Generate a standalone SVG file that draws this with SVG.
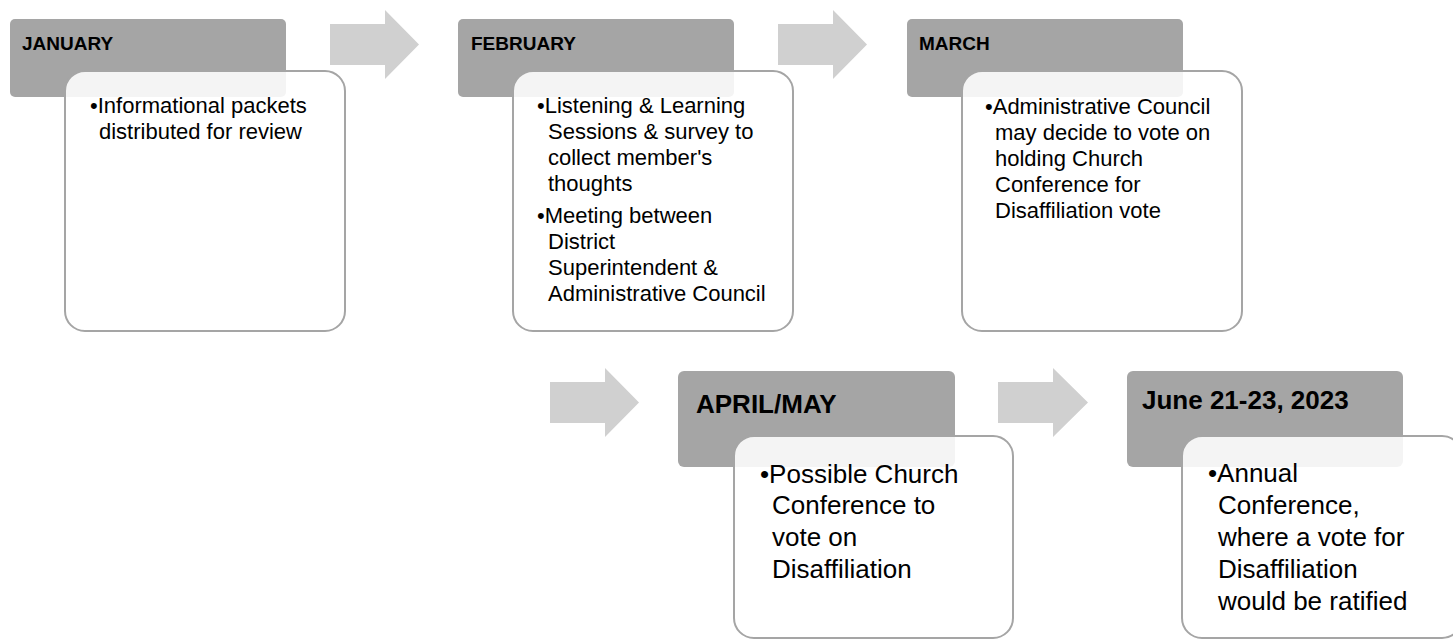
<svg xmlns="http://www.w3.org/2000/svg" width="1453" height="639" viewBox="0 0 1453 639">
<style>
.hdr{fill:#a5a5a5}
.body{fill:#ffffff;fill-opacity:0.88;stroke:#a5a5a5;stroke-width:2}
.arrow{fill:#d0d0d0}
.h1{font-family:"Liberation Sans",Arial,sans-serif;font-weight:bold;font-size:19px;fill:#000}
.h2{font-family:"Liberation Sans",Arial,sans-serif;font-weight:bold;font-size:26px;fill:#000}
.t1{font-family:"Liberation Sans",Arial,sans-serif;font-size:22px;fill:#000}
.t2{font-family:"Liberation Sans",Arial,sans-serif;font-size:26px;fill:#000}
</style>
<rect width="1453" height="639" fill="#ffffff"/>
<g id="connectors">
<polygon class="arrow" points="330,24 385,24 385,10 419,44.5 385,79 385,65 330,65"/>
<polygon class="arrow" points="778,24 833,24 833,10 867,44.5 833,79 833,65 778,65"/>
<polygon class="arrow" points="550,382 605,382 605,368 639,402.5 605,437 605,423 550,423"/>
<polygon class="arrow" points="998,382 1053,382 1053,368 1088,402.5 1053,437 1053,423 998,423"/>
</g>
<g id="january">
<rect class="hdr" x="10" y="19" width="276" height="78" rx="5"/>
<text class="h1" x="22" y="50">JANUARY</text>
<rect class="body" x="65" y="71" width="280" height="260" rx="20"/>
<text class="t1" x="90" y="113">•Informational packets</text>
<text class="t1" x="99" y="139">distributed for review</text>
</g>
<g id="february">
<rect class="hdr" x="458" y="19" width="276" height="78" rx="5"/>
<text class="h1" x="471" y="50">FEBRUARY</text>
<rect class="body" x="513" y="71" width="280" height="260" rx="20"/>
<text class="t1" x="537" y="113">•Listening &amp; Learning</text>
<text class="t1" x="548" y="139">Sessions &amp; survey to</text>
<text class="t1" x="548" y="165">collect member's</text>
<text class="t1" x="548" y="191">thoughts</text>
<text class="t1" x="537" y="223">•Meeting between</text>
<text class="t1" x="548" y="249">District</text>
<text class="t1" x="548" y="275">Superintendent &amp;</text>
<text class="t1" x="548" y="301">Administrative Council</text>
</g>
<g id="march">
<rect class="hdr" x="907" y="19" width="276" height="78" rx="5"/>
<text class="h1" x="919" y="50">MARCH</text>
<rect class="body" x="962" y="71" width="280" height="260" rx="20"/>
<text class="t1" x="985" y="114">•Administrative Council</text>
<text class="t1" x="995" y="140">may decide to vote on</text>
<text class="t1" x="995" y="166">holding Church</text>
<text class="t1" x="995" y="192">Conference for</text>
<text class="t1" x="995" y="218">Disaffiliation vote</text>
</g>
<g id="aprilmay">
<rect class="hdr" x="678" y="371" width="277" height="96" rx="6"/>
<text class="h2" x="696" y="413">APRIL/MAY</text>
<rect class="body" x="734" y="436" width="279" height="202" rx="20"/>
<text class="t2" x="760" y="483">•Possible Church</text>
<text class="t2" x="772" y="514">Conference to</text>
<text class="t2" x="772" y="546">vote on</text>
<text class="t2" x="772" y="578">Disaffiliation</text>
</g>
<g id="june">
<rect class="hdr" x="1127" y="371" width="276" height="96" rx="6"/>
<text class="h2" x="1142" y="409">June 21-23, 2023</text>
<rect class="body" x="1182" y="436" width="280" height="202" rx="20"/>
<text class="t2" x="1208" y="482">•Annual</text>
<text class="t2" x="1218" y="514">Conference,</text>
<text class="t2" x="1218" y="546">where a vote for</text>
<text class="t2" x="1218" y="578">Disaffiliation</text>
<text class="t2" x="1218" y="610">would be ratified</text>
</g>
</svg>
